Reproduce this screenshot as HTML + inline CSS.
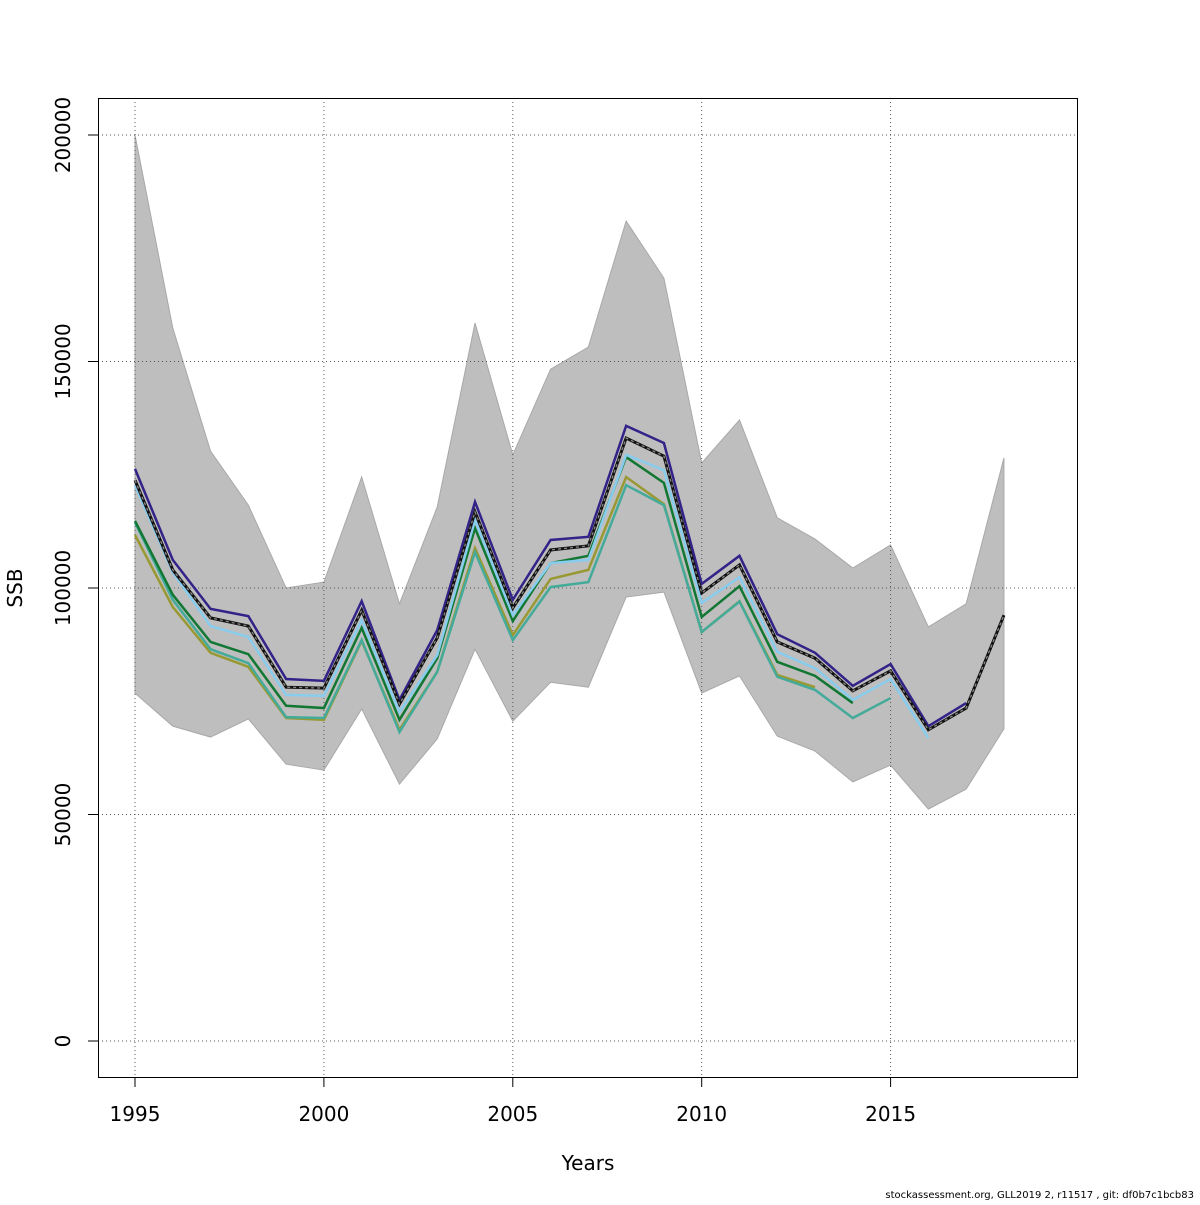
<!DOCTYPE html>
<html><head><meta charset="utf-8"><style>
html,body{margin:0;padding:0;background:#fff;}
svg text{font-family:"DejaVu Sans","Liberation Sans",sans-serif;}
</style></head><body>
<svg id="chart" width="1200" height="1200" xmlns="http://www.w3.org/2000/svg">
<g id="bandg"></g><g id="gridg"></g><g id="lineg"></g><g id="axisg"></g>
<text x="588" y="1170" font-size="20" text-anchor="middle">Years</text>
<text x="0" y="0" font-size="20" text-anchor="middle" transform="translate(22,588) rotate(-90)">SSB</text>
<text x="1194" y="1198" font-size="10" text-anchor="end">stockassessment.org, GLL2019 2, r11517 , git: df0b7c1bcb83</text>
</svg>
<script>
const years=[1995,1996,1997,1998,1999,2000,2001,2002,2003,2004,2005,2006,2007,2008,2009,2010,2011,2012,2013,2014,2015,2016,2017,2018];
const bandUpper=[200000,157400,130200,118300,100000,101300,124500,96500,117900,158500,129400,148300,153200,181000,168400,127600,137100,115500,110800,104400,109500,91400,96500,128700];
const bandLower=[76800,69500,67100,71100,61100,59800,73300,56700,66700,86500,70600,79200,78100,98000,99100,76800,80600,67300,64000,57200,60900,51200,55600,68900];
const ssbMain=[123800,104000,93400,91600,78100,77900,95100,74400,89000,116800,95600,108400,109300,133100,129100,98900,105100,88100,84500,77300,81700,68700,73500,94000];
const ssbPeel1=[126300,106200,95400,93800,79900,79500,97100,75300,90700,119000,97400,110600,111300,135800,132000,100900,107100,89800,85700,78400,83200,69500,74600];
const ssbPeel2=[122700,103500,91600,89200,76400,76200,92900,72600,85200,115000,94000,105500,106200,129400,126000,96700,102400,85900,82300,75300,79900,66900];
const ssbPeel3=[114500,97400,86500,83400,71500,71300,88500,68200,81500,107900,88500,100200,101300,122700,118300,90300,97000,80400,77500,71300,75700];
const ssbPeel4=[114800,98500,88100,85400,74000,73500,91200,70900,84500,113200,92700,105500,107100,128900,123200,93600,100400,83700,80600,74600];
const ssbPeel5=[111700,95800,85700,82600,71300,70900,88300,68700,81500,108800,89600,102000,104000,124500,118500,90300,97100,80800,78100];
const yTicks=[0,50000,100000,150000,200000];
const xTicks=[1995,2000,2005,2010,2015];
const NS="http://www.w3.org/2000/svg";
const X=y=>135+(y-1995)*37.78;
const Y=v=>1041-v*906/200000;
function mk(tag,parent,attrs){const e=document.createElementNS(NS,tag);for(const k in attrs)e.setAttribute(k,attrs[k]);document.getElementById(parent).appendChild(e);return e;}
let pts=years.map((y,i)=>X(y)+","+Y(bandUpper[i]));
for(let i=years.length-1;i>=0;i--)pts.push(X(years[i])+","+Y(bandLower[i]));
const band=mk('polygon','bandg',{points:pts.join(' '),fill:'#bebebe',stroke:'#a8a8a8','stroke-width':1});


yTicks.forEach(v=>{const l=mk('line','gridg',{x1:98,x2:1077,y1:Y(v),y2:Y(v),stroke:'#555','stroke-width':1,'stroke-dasharray':'1,3'});

});
xTicks.forEach(v=>{const l=mk('line','gridg',{x1:X(v),x2:X(v),y1:98,y2:1077,stroke:'#555','stroke-width':1,'stroke-dasharray':'1,3'});

});
const series=[[ssbPeel5,'#999933','peel-5-line'],[ssbPeel3,'#44AA99','peel-3-line'],[ssbPeel4,'#117733','peel-4-line'],[ssbPeel2,'#88CCEE','peel-2-line'],[ssbPeel1,'#332288','peel-1-line']];
function path(arr){return arr.map((v,i)=>X(years[i])+","+Y(v)).join(' ');}
series.forEach(s=>{const p=mk('polyline','lineg',{points:path(s[0]),fill:'none',stroke:s[1],'stroke-width':2.5});

});
const m=mk('polyline','lineg',{points:path(ssbMain),fill:'none',stroke:'#111','stroke-width':3});


const md=mk('polyline','lineg',{points:path(ssbMain),fill:'none',stroke:'#888','stroke-width':1.3,'stroke-dasharray':'3,3'});


const box=mk('rect','axisg',{x:98.5,y:98.5,width:979,height:979,fill:'none',stroke:'#000','stroke-width':1});


yTicks.forEach(v=>{mk('line','axisg',{x1:88,x2:98,y1:Y(v),y2:Y(v),stroke:'#000'});
const t=mk('text','axisg',{transform:`translate(70,${Y(v)}) rotate(-90)`,'font-size':20,'text-anchor':'middle'});t.textContent=v;

});
xTicks.forEach(v=>{mk('line','axisg',{x1:X(v),x2:X(v),y1:1077,y2:1087,stroke:'#000'});
const t=mk('text','axisg',{x:X(v),y:1121,'font-size':20,'text-anchor':'middle'});t.textContent=v;

});
</script>
</body></html>
